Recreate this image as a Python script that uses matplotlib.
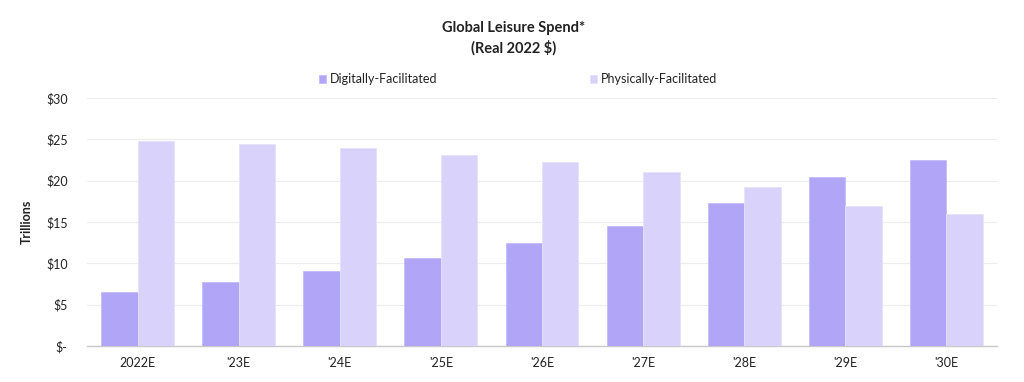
import matplotlib
matplotlib.use("Agg")
import matplotlib.pyplot as plt
import numpy as np

plt.rcParams['font.family'] = ['Lato', 'DejaVu Sans']

categories = ["2022E", "'23E", "'24E", "'25E", "'26E", "'27E", "'28E", "'29E", "'30E"]
digital = [6.5, 7.7, 9.05, 10.7, 12.4, 14.5, 17.25, 20.5, 22.45]
physical = [24.8, 24.45, 23.95, 23.1, 22.25, 21.05, 19.25, 16.95, 15.95]
yticks = [0, 5, 10, 15, 20, 25, 30]
ytick_labels = ["$-", "$5", "$10", "$15", "$20", "$25", "$30"]

c_dig = "#b1a5f8"
c_phy = "#d9d2fa"

fig = plt.figure(figsize=(10.24, 3.82), dpi=100)
ax = fig.add_axes([87/1024, 1-346/382, (997-87)/1024, (346-98)/382])

x = np.arange(len(categories))
w = 0.36
ax.bar(x - w/2, digital, w, color=c_dig, edgecolor="#c4bbfa", linewidth=0.6, label="Digitally-Facilitated", zorder=3)
ax.bar(x + w/2, physical, w, color=c_phy, edgecolor="#e6e1fc", linewidth=0.6, label="Physically-Facilitated", zorder=3)

ax.set_xlim(-0.5, len(categories) - 0.5)
ax.set_ylim(0, 30)
ax.set_yticks(yticks)
ax.set_yticklabels(ytick_labels, fontsize=9, color="#222222")
ax.set_xticks(x)
ax.set_xticklabels(categories, fontsize=9, color="#222222")
ax.tick_params(axis='both', length=0)
ax.tick_params(axis='y', pad=14)
ax.tick_params(axis='x', pad=8)
ax.yaxis.grid(True, color="#ececec", linewidth=0.8, zorder=0)
ax.set_axisbelow(True)
for s in ["top", "right", "left"]:
    ax.spines[s].set_visible(False)
ax.spines["bottom"].set_color("#c8c8cc")
ax.spines["bottom"].set_linewidth(1.0)

fig.text(27/1024, 1-222/382, "Trillions", rotation=90, fontsize=9, fontweight='bold',
         ha='center', va='center', color="#222222")

fig.text(514/1024, 1-28/382, "Global Leisure Spend*", fontsize=10.5, fontweight='bold',
         ha='center', va='center', color="#222222")
fig.text(514/1024, 1-48/382, "(Real 2022 $)", fontsize=10.5, fontweight='bold',
         ha='center', va='center', color="#222222")

leg = fig.legend(loc='center', bbox_to_anchor=(518/1024, 1-79/382), ncol=2, frameon=False,
                 fontsize=9, handlelength=0.6, handleheight=0.6, handletextpad=0.3,
                 columnspacing=12.2)
for t in leg.get_texts():
    t.set_color("#222222")

fig.savefig("out.png", dpi=100)
